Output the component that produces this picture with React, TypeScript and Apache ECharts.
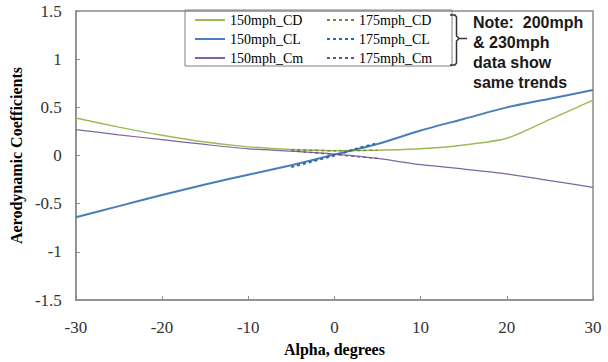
import React, { useEffect, useRef } from "react";
import * as echarts from "echarts";

// Angle of attack (degrees)
const alpha150 = [-30, -25, -20, -15, -10, -5, 0, 5, 10, 15, 20, 25, 30];
const alpha175 = [-5, -2.5, 0, 2.5, 5];

// 150 mph coefficients
const cd150 = [0.39, 0.295, 0.21, 0.14, 0.09, 0.062, 0.05, 0.055, 0.07, 0.11, 0.18, 0.375, 0.575];
const cl150 = [-0.64, -0.525, -0.41, -0.3, -0.2, -0.1, 0.01, 0.12, 0.26, 0.38, 0.5, 0.59, 0.68];
const cm150 = [0.27, 0.215, 0.165, 0.115, 0.07, 0.045, 0.015, -0.03, -0.095, -0.14, -0.19, -0.26, -0.33];

// 175 mph coefficients (near-zero alpha only)
const cd175 = [0.06, 0.055, 0.05, 0.052, 0.056];
const cl175 = [-0.12, -0.06, 0.0, 0.07, 0.13];
const cm175 = [0.05, 0.03, 0.01, -0.01, -0.03];

const yTicks = { min: -1.5, max: 1.5, step: 0.5 };
const xTicks = { min: -30, max: 30, step: 10 };

const noteLines = ["Note:  200mph", "& 230mph", "data show", "same trends"];

const pair = (xs: number[], ys: number[]) => xs.map((x, i) => [x, ys[i]]);

const SERIF = "'Liberation Serif', 'Times New Roman', serif";
const SANS = "'Liberation Sans', Arial, sans-serif";

export default function App() {
  const ref = useRef<HTMLDivElement>(null);

  useEffect(() => {
    if (!ref.current) return;
    const chart = echarts.init(ref.current, undefined, { renderer: "svg" });

    const line = (name: string, data: number[][], color: string, width: number, dashed: boolean) => ({
      name,
      type: "line",
      data,
      showSymbol: false,
      symbol: "none",
      smooth: 0.25,
      lineStyle: { color, width, type: dashed ? [3, 3] : "solid" },
      itemStyle: { color },
      z: dashed ? 3 : 2,
    });

    const legendText = { fontFamily: SERIF, fontSize: 14, color: "#000" };
    const legendBase = {
      orient: "vertical",
      top: 13,
      padding: 0,
      itemHeight: 14,
      itemGap: 5,
      itemStyle: { opacity: 0 },
      textStyle: legendText,
    };

    chart.setOption({
      animation: false,
      backgroundColor: "#fff",
      grid: {
        left: 75,
        right: 15,
        top: 11,
        bottom: 57,
        show: true,
        borderColor: "#8c8c8c",
        borderWidth: 1.5,
      },
      xAxis: {
        type: "value",
        min: xTicks.min,
        max: xTicks.max,
        interval: xTicks.step,
        name: "Alpha, degrees",
        nameLocation: "middle",
        nameGap: 36,
        nameTextStyle: { fontFamily: SERIF, fontSize: 16, fontWeight: "bold", color: "#000" },
        axisLine: { onZero: false, lineStyle: { color: "#8c8c8c", width: 1.5 } },
        axisTick: { inside: true, length: 4, lineStyle: { color: "#8c8c8c" } },
        axisLabel: { fontFamily: SERIF, fontSize: 17, color: "#333", margin: 19 },
        splitLine: { show: false },
      },
      yAxis: {
        type: "value",
        min: yTicks.min,
        max: yTicks.max,
        interval: yTicks.step,
        name: "Aerodynamic Coefficients",
        nameLocation: "middle",
        nameGap: 50,
        nameTextStyle: { fontFamily: SERIF, fontSize: 16, fontWeight: "bold", color: "#000" },
        axisLine: { show: true, onZero: false, lineStyle: { color: "#8c8c8c", width: 1.5 } },
        axisTick: { show: true, inside: true, length: 4, lineStyle: { color: "#8c8c8c" } },
        axisLabel: { fontFamily: SERIF, fontSize: 17, color: "#333", margin: 14 },
        splitLine: { show: false },
      },
      legend: [
        {
          ...legendBase,
          data: ["150mph_CD", "150mph_CL", "150mph_Cm"],
          left: 194,
          itemWidth: 30,
        },
        {
          ...legendBase,
          data: ["175mph_CD", "175mph_CL", "175mph_Cm"],
          left: 326,
          itemWidth: 27,
        },
      ],
      series: [
        line("150mph_CD", pair(alpha150, cd150), "#9bbb59", 1.5, false),
        line("150mph_CL", pair(alpha150, cl150), "#4a7ebb", 2, false),
        line("150mph_Cm", pair(alpha150, cm150), "#8064a2", 1.2, false),
        line("175mph_CD", pair(alpha175, cd175), "#6f8a3a", 1.5, true),
        line("175mph_CL", pair(alpha175, cl175), "#3563a8", 2, true),
        line("175mph_Cm", pair(alpha175, cm175), "#6a4f8c", 1.2, true),
      ],
      graphic: [
        {
          type: "rect",
          shape: { x: 185, y: 10, width: 267, height: 56 },
          style: { fill: "none", stroke: "#808080", lineWidth: 1 },
          z: 10,
        },
        {
          type: "polyline",
          shape: {
            points: [
              [450, 15],
              [455, 15],
              [456.5, 17],
              [456.5, 36],
              [459, 38.5],
              [467, 38.5],
              [459, 38.5],
              [456.5, 41],
              [456.5, 63],
              [455, 65],
              [450, 65],
            ],
          },
          style: { fill: "none", stroke: "#333", lineWidth: 1.5 },
          z: 10,
        },
        ...noteLines.map((t, i) => ({
          type: "text",
          left: 473,
          top: 14 + i * 20,
          style: { text: t, font: `bold 16px ${SANS}`, fill: "#1a1a1a" },
          z: 10,
        })),
      ],
    });

    return () => chart.dispose();
  }, []);

  return (
    <div
      ref={ref}
      style={{ position: "absolute", left: 0, top: 0, width: 608, height: 362 }}
    />
  );
}
